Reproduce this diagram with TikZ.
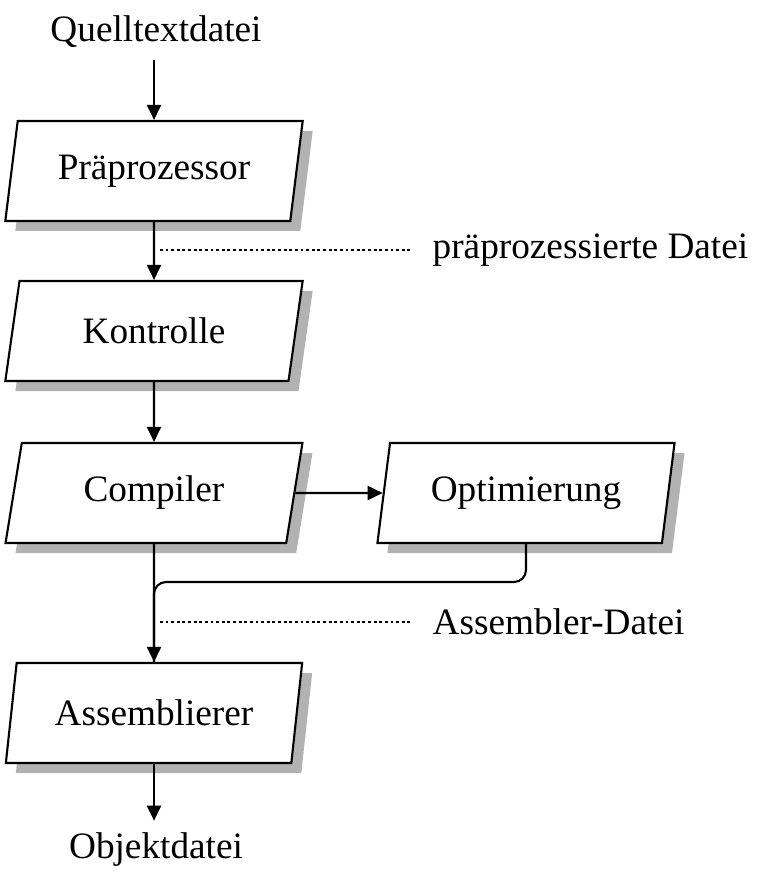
\documentclass[tikz,border=0pt]{standalone}
\usepackage{fontspec}
\setmainfont{Liberation Serif}
\usetikzlibrary{shapes.geometric, shadows, arrows.meta}

\tikzset{
  stufe/.style={draw, fill=white, trapezium, trapezium left angle=80,
    trapezium right angle=100, trapezium stretches=true,
    minimum width=2.98cm, minimum height=1cm, line width=0.6pt,
    drop shadow={shadow xshift=0.1cm, shadow yshift=-0.1cm, fill=black!30, opacity=1}},
  fluss/.style={-{Triangle[length=1.5mm,width=1.4mm]}, line width=0.6pt},
  hinweis/.style={line width=0.45pt, dash pattern=on 0.8pt off 0.8pt},
  datei/.style={inner xsep=0.21cm},
  every node/.style={font=\fontsize{10.6}{12}\selectfont},
}

\begin{document}
\begin{tikzpicture}
  \useasboundingbox (0,0) rectangle (7.83,-8.78);
  %stufen
  \node (quelle) at (1.56,-0.32) {Quelltextdatei};
  \node[stufe] (praep) at (1.54,-1.71) {Präprozessor};
  \node[stufe] (kontrolle) at (1.54,-3.31) {Kontrolle};
  \node[stufe] (compiler) at (1.54,-4.93) {Compiler};
  \node[stufe] (optim) at (5.26,-4.93) {Optimierung};
  \node[stufe] (assembler) at (1.54,-7.13) {Assemblierer};
  \node (objekt) at (1.56,-8.50) {Objektdatei};
  %zwischendateien
  \node[datei, anchor=west] (praepdatei) at (4.11,-2.50) {präprozessierte Datei};
  \node[datei, anchor=west] (asmdatei) at (4.11,-6.22) {Assembler-Datei};
  \coordinate (d1) at (1.60,-2.50);
  \coordinate (d2) at (1.60,-6.22);
  \coordinate (merge) at (1.54,-5.82);
  %pfeile
  \draw[fluss] (praep.north |- quelle.south) -- (praep.north);
  \draw[fluss] (praep.south) -- (kontrolle.north);
  \draw[fluss] (kontrolle.south) -- (compiler.north);
  \draw[fluss] (compiler.east) -- (optim.west);
  \draw[fluss] (compiler.south) -- (assembler.north);
  \draw[line width=0.6pt, rounded corners=0.12cm] (optim.south) |- (merge) -- (assembler.north);
  \draw[fluss] (assembler.south) -- (assembler.south |- objekt.north);
  \draw[hinweis] (d1) -- (praepdatei.west);
  \draw[hinweis] (d2) -- (asmdatei.west);
\end{tikzpicture}
\end{document}
